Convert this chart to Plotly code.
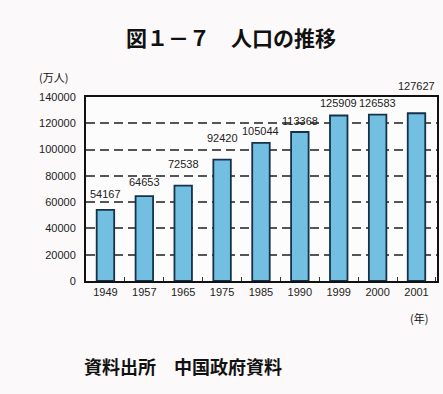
import plotly.graph_objects as go

years = ["1949", "1957", "1965", "1975", "1985", "1990", "1999", "2000", "2001"]
population = [54167, 64653, 72538, 92420, 105044, 113368, 125909, 126583, 127627]
label_shift = [8, 6, 14, 14, 4, 3, 5, 4, 19]

W, H = 443, 394
L, R, T, B = 86, 6, 97, 113
pw, ph = W - L - R, H - T - B


def px(x):
    return (x - L) / pw


def py(y):
    return (H - B - y) / ph


num_font = dict(family="Liberation Sans, Arial, sans-serif", size=11, color="#222")
cjk = "Noto Sans CJK JP, sans-serif"

fig = go.Figure()
fig.add_trace(go.Bar(
    x=years, y=population,
    marker=dict(color="#72bfe2", line=dict(color="#15324a", width=1.8)),
    hoverinfo="x+y",
))

annotations = []
for i, (v, s) in enumerate(zip(population, label_shift)):
    annotations.append(dict(x=i, y=v, text=str(v), showarrow=False, xref="x", yref="y",
                            xanchor="center", yanchor="bottom", yshift=s,
                            font=dict(num_font, size=11)))


def note(text, x, y, size, xanchor="center"):
    return dict(text=text, x=px(x), y=py(y), xref="paper", yref="paper",
                xanchor=xanchor, yanchor="middle", showarrow=False,
                font=dict(family=cjk, size=size, color="#111"))


annotations += [
    note("<b>図１－７　人口の推移</b>", 231, 37, 21),
    note("(万人)", 53, 77, 11),
    note("(年)", 419, 318, 11),
    note("<b>資料出所　中国政府資料</b>", 82, 366, 18, "left"),
]

fig.update_layout(
    width=W, height=H,
    margin=dict(l=L, r=R, t=T, b=B, autoexpand=False),
    paper_bgcolor="#fbf9f9", plot_bgcolor="#fdfcfc",
    bargap=0.55, showlegend=False,
    annotations=annotations,
    xaxis=dict(type="category", automargin=False, tickangle=0,
               showline=True, linecolor="#111", linewidth=2, mirror=True,
               ticks="inside", tickson="boundaries", ticklen=4, tickcolor="#333",
               tickfont=num_font, showgrid=False),
    yaxis=dict(range=[0, 140000], dtick=20000, tickformat="d", automargin=False,
               showline=True, linecolor="#111", linewidth=2, mirror=True,
               showgrid=True, gridcolor="#555", gridwidth=1.5, griddash="9px,5px",
               zeroline=False, ticks="", tickfont=num_font, ticklabelstandoff=6),
)

fig.write_html("out.html")
